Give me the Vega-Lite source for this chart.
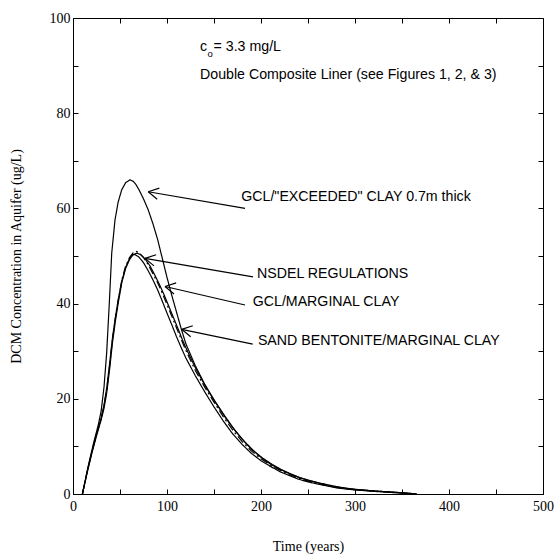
{
  "$schema": "https://vega.github.io/schema/vega-lite/v6.json",
  "width": 470,
  "height": 476,
  "autosize": {"type": "none"},
  "padding": {"left": 73, "top": 18, "right": 12, "bottom": 61},
  "background": "white",
  "config": {
    "view": {"stroke": "black", "strokeWidth": 1},
    "axis": {
      "labelFont": "Liberation Serif",
      "titleFont": "Liberation Serif",
      "labelFontSize": 14,
      "titleFontSize": 14,
      "titleFontWeight": "normal",
      "labelColor": "black",
      "titleColor": "black",
      "domainColor": "black",
      "tickColor": "black",
      "grid": false,
      "tickSize": -5
    }
  },
  "datasets": {
    "curves": [
      {"series": "EXCEEDED", "t": 10, "c": 0}, {"series": "EXCEEDED", "t": 16, "c": 5.7}, {"series": "EXCEEDED", "t": 22, "c": 10.8}, {"series": "EXCEEDED", "t": 27, "c": 14.6}, {"series": "EXCEEDED", "t": 30, "c": 17.5}, {"series": "EXCEEDED", "t": 33, "c": 22.5}, {"series": "EXCEEDED", "t": 35.8, "c": 29.6}, {"series": "EXCEEDED", "t": 38.6, "c": 40}, {"series": "EXCEEDED", "t": 41.2, "c": 50.6}, {"series": "EXCEEDED", "t": 44.7, "c": 57.6}, {"series": "EXCEEDED", "t": 48, "c": 61.3}, {"series": "EXCEEDED", "t": 51.8, "c": 63.9}, {"series": "EXCEEDED", "t": 56, "c": 65.4}, {"series": "EXCEEDED", "t": 60.6, "c": 66}, {"series": "EXCEEDED", "t": 64, "c": 65.7}, {"series": "EXCEEDED", "t": 67, "c": 65}, {"series": "EXCEEDED", "t": 70, "c": 64}, {"series": "EXCEEDED", "t": 75, "c": 62}, {"series": "EXCEEDED", "t": 80, "c": 59.7}, {"series": "EXCEEDED", "t": 85, "c": 56.8}, {"series": "EXCEEDED", "t": 90, "c": 53.5}, {"series": "EXCEEDED", "t": 95, "c": 49.5}, {"series": "EXCEEDED", "t": 100, "c": 45.5}, {"series": "EXCEEDED", "t": 105, "c": 41.8}, {"series": "EXCEEDED", "t": 110, "c": 38.3}, {"series": "EXCEEDED", "t": 115, "c": 34.8}, {"series": "EXCEEDED", "t": 120, "c": 31.6}, {"series": "EXCEEDED", "t": 130, "c": 27}, {"series": "EXCEEDED", "t": 140, "c": 23.1}, {"series": "EXCEEDED", "t": 150, "c": 19.8}, {"series": "EXCEEDED", "t": 160, "c": 16.8}, {"series": "EXCEEDED", "t": 170, "c": 14}, {"series": "EXCEEDED", "t": 180, "c": 11.5}, {"series": "EXCEEDED", "t": 190, "c": 9.4}, {"series": "EXCEEDED", "t": 200, "c": 7.7}, {"series": "EXCEEDED", "t": 210, "c": 6.3}, {"series": "EXCEEDED", "t": 220, "c": 5.2}, {"series": "EXCEEDED", "t": 230, "c": 4.3}, {"series": "EXCEEDED", "t": 240, "c": 3.5}, {"series": "EXCEEDED", "t": 250, "c": 2.9}, {"series": "EXCEEDED", "t": 260, "c": 2.4}, {"series": "EXCEEDED", "t": 270, "c": 1.95}, {"series": "EXCEEDED", "t": 280, "c": 1.55}, {"series": "EXCEEDED", "t": 290, "c": 1.25}, {"series": "EXCEEDED", "t": 300, "c": 1}, {"series": "EXCEEDED", "t": 320, "c": 0.65}, {"series": "EXCEEDED", "t": 340, "c": 0.4}, {"series": "EXCEEDED", "t": 355, "c": 0.2}, {"series": "EXCEEDED", "t": 365, "c": 0},

      {"series": "NSDEL", "t": 10, "c": 0}, {"series": "NSDEL", "t": 15, "c": 4.6}, {"series": "NSDEL", "t": 20, "c": 8.8}, {"series": "NSDEL", "t": 25, "c": 12.5}, {"series": "NSDEL", "t": 30, "c": 16}, {"series": "NSDEL", "t": 33, "c": 18.5}, {"series": "NSDEL", "t": 36, "c": 22}, {"series": "NSDEL", "t": 39, "c": 27}, {"series": "NSDEL", "t": 42, "c": 32.5}, {"series": "NSDEL", "t": 45, "c": 36.8}, {"series": "NSDEL", "t": 48, "c": 40.6}, {"series": "NSDEL", "t": 52, "c": 45}, {"series": "NSDEL", "t": 56, "c": 47.9}, {"series": "NSDEL", "t": 60, "c": 49.6}, {"series": "NSDEL", "t": 64, "c": 50.7}, {"series": "NSDEL", "t": 67, "c": 51}, {"series": "NSDEL", "t": 70, "c": 50.7}, {"series": "NSDEL", "t": 75, "c": 49.7}, {"series": "NSDEL", "t": 80, "c": 48.2}, {"series": "NSDEL", "t": 85, "c": 46.3}, {"series": "NSDEL", "t": 90, "c": 44.4}, {"series": "NSDEL", "t": 95, "c": 42.2}, {"series": "NSDEL", "t": 100, "c": 39.8}, {"series": "NSDEL", "t": 105, "c": 37.4}, {"series": "NSDEL", "t": 110, "c": 35}, {"series": "NSDEL", "t": 115, "c": 32.5}, {"series": "NSDEL", "t": 120, "c": 30.2}, {"series": "NSDEL", "t": 130, "c": 26}, {"series": "NSDEL", "t": 140, "c": 22.5}, {"series": "NSDEL", "t": 150, "c": 19.3}, {"series": "NSDEL", "t": 160, "c": 16.2}, {"series": "NSDEL", "t": 170, "c": 13.4}, {"series": "NSDEL", "t": 180, "c": 11}, {"series": "NSDEL", "t": 190, "c": 9}, {"series": "NSDEL", "t": 200, "c": 7.4}, {"series": "NSDEL", "t": 210, "c": 6.1}, {"series": "NSDEL", "t": 220, "c": 5}, {"series": "NSDEL", "t": 230, "c": 4.1}, {"series": "NSDEL", "t": 240, "c": 3.3}, {"series": "NSDEL", "t": 250, "c": 2.7}, {"series": "NSDEL", "t": 260, "c": 2.2}, {"series": "NSDEL", "t": 270, "c": 1.8}, {"series": "NSDEL", "t": 280, "c": 1.4}, {"series": "NSDEL", "t": 290, "c": 1.1}, {"series": "NSDEL", "t": 300, "c": 0.9}, {"series": "NSDEL", "t": 320, "c": 0.6}, {"series": "NSDEL", "t": 340, "c": 0.35}, {"series": "NSDEL", "t": 355, "c": 0.15}, {"series": "NSDEL", "t": 364, "c": 0},

      {"series": "GCLMARG", "t": 10, "c": 0}, {"series": "GCLMARG", "t": 15, "c": 4.6}, {"series": "GCLMARG", "t": 20, "c": 8.8}, {"series": "GCLMARG", "t": 25, "c": 12.5}, {"series": "GCLMARG", "t": 30, "c": 16}, {"series": "GCLMARG", "t": 33, "c": 18.7}, {"series": "GCLMARG", "t": 36, "c": 22.5}, {"series": "GCLMARG", "t": 39, "c": 27.5}, {"series": "GCLMARG", "t": 42, "c": 32.8}, {"series": "GCLMARG", "t": 45, "c": 37}, {"series": "GCLMARG", "t": 48, "c": 40.7}, {"series": "GCLMARG", "t": 52, "c": 44.8}, {"series": "GCLMARG", "t": 56, "c": 47.6}, {"series": "GCLMARG", "t": 60, "c": 49.4}, {"series": "GCLMARG", "t": 63, "c": 50.3}, {"series": "GCLMARG", "t": 66, "c": 50.3}, {"series": "GCLMARG", "t": 70, "c": 49.8}, {"series": "GCLMARG", "t": 75, "c": 48.6}, {"series": "GCLMARG", "t": 80, "c": 46.9}, {"series": "GCLMARG", "t": 85, "c": 45}, {"series": "GCLMARG", "t": 90, "c": 42.9}, {"series": "GCLMARG", "t": 95, "c": 40.5}, {"series": "GCLMARG", "t": 100, "c": 38}, {"series": "GCLMARG", "t": 105, "c": 35.6}, {"series": "GCLMARG", "t": 110, "c": 33.1}, {"series": "GCLMARG", "t": 115, "c": 30.8}, {"series": "GCLMARG", "t": 120, "c": 28.6}, {"series": "GCLMARG", "t": 130, "c": 24.9}, {"series": "GCLMARG", "t": 140, "c": 21.5}, {"series": "GCLMARG", "t": 150, "c": 18.3}, {"series": "GCLMARG", "t": 160, "c": 15.3}, {"series": "GCLMARG", "t": 170, "c": 12.6}, {"series": "GCLMARG", "t": 180, "c": 10.4}, {"series": "GCLMARG", "t": 190, "c": 8.5}, {"series": "GCLMARG", "t": 200, "c": 7}, {"series": "GCLMARG", "t": 210, "c": 5.8}, {"series": "GCLMARG", "t": 220, "c": 4.7}, {"series": "GCLMARG", "t": 230, "c": 3.9}, {"series": "GCLMARG", "t": 240, "c": 3.1}, {"series": "GCLMARG", "t": 250, "c": 2.55}, {"series": "GCLMARG", "t": 260, "c": 2.1}, {"series": "GCLMARG", "t": 270, "c": 1.7}, {"series": "GCLMARG", "t": 280, "c": 1.3}, {"series": "GCLMARG", "t": 290, "c": 1.05}, {"series": "GCLMARG", "t": 300, "c": 0.85}, {"series": "GCLMARG", "t": 320, "c": 0.55}, {"series": "GCLMARG", "t": 340, "c": 0.3}, {"series": "GCLMARG", "t": 355, "c": 0.12}, {"series": "GCLMARG", "t": 362, "c": 0},

      {"series": "SAND", "t": 10, "c": 0}, {"series": "SAND", "t": 15, "c": 4.4}, {"series": "SAND", "t": 20, "c": 8.5}, {"series": "SAND", "t": 25, "c": 12.2}, {"series": "SAND", "t": 30, "c": 15.6}, {"series": "SAND", "t": 33, "c": 18}, {"series": "SAND", "t": 36, "c": 21.4}, {"series": "SAND", "t": 39, "c": 26.3}, {"series": "SAND", "t": 42, "c": 31.8}, {"series": "SAND", "t": 45, "c": 36.2}, {"series": "SAND", "t": 48, "c": 40}, {"series": "SAND", "t": 52, "c": 44.5}, {"series": "SAND", "t": 56, "c": 47.4}, {"series": "SAND", "t": 60, "c": 49.2}, {"series": "SAND", "t": 64, "c": 50.3}, {"series": "SAND", "t": 68, "c": 50.6}, {"series": "SAND", "t": 72, "c": 50.3}, {"series": "SAND", "t": 77, "c": 49.3}, {"series": "SAND", "t": 82, "c": 47.9}, {"series": "SAND", "t": 87, "c": 46}, {"series": "SAND", "t": 92, "c": 44}, {"series": "SAND", "t": 97, "c": 41.8}, {"series": "SAND", "t": 102, "c": 39.4}, {"series": "SAND", "t": 107, "c": 37}, {"series": "SAND", "t": 112, "c": 34.6}, {"series": "SAND", "t": 117, "c": 32.1}, {"series": "SAND", "t": 122, "c": 29.9}, {"series": "SAND", "t": 132, "c": 25.8}, {"series": "SAND", "t": 142, "c": 22.3}, {"series": "SAND", "t": 152, "c": 19.1}, {"series": "SAND", "t": 162, "c": 16.1}, {"series": "SAND", "t": 172, "c": 13.4}, {"series": "SAND", "t": 182, "c": 11.1}, {"series": "SAND", "t": 192, "c": 9.1}, {"series": "SAND", "t": 202, "c": 7.5}, {"series": "SAND", "t": 212, "c": 6.2}, {"series": "SAND", "t": 222, "c": 5.1}, {"series": "SAND", "t": 232, "c": 4.2}, {"series": "SAND", "t": 242, "c": 3.4}, {"series": "SAND", "t": 252, "c": 2.8}, {"series": "SAND", "t": 262, "c": 2.3}, {"series": "SAND", "t": 272, "c": 1.85}, {"series": "SAND", "t": 282, "c": 1.45}, {"series": "SAND", "t": 292, "c": 1.15}, {"series": "SAND", "t": 302, "c": 0.92}, {"series": "SAND", "t": 322, "c": 0.62}, {"series": "SAND", "t": 342, "c": 0.36}, {"series": "SAND", "t": 357, "c": 0.16}, {"series": "SAND", "t": 366, "c": 0}
    ],
    "arrows": [
      {"label": "GCL/\"EXCEEDED\" CLAY 0.7m thick", "tipT": 80, "tipC": 63.5, "startT": 183, "startC": 60, "textT": 179, "textC": 62.5},
      {"label": "NSDEL REGULATIONS", "tipT": 76.6, "tipC": 49.5, "startT": 191.5, "startC": 45.6, "textT": 195.7, "textC": 46.2},
      {"label": "GCL/MARGINAL CLAY", "tipT": 97.9, "tipC": 43.6, "startT": 183, "startC": 39.7, "textT": 191.2, "textC": 40.4},
      {"label": "SAND BENTONITE/MARGINAL CLAY", "tipT": 115.6, "tipC": 34.6, "startT": 191.2, "startC": 31.5, "textT": 196.7, "textC": 32.2}
    ],
    "notes": [
      {"text": "Double Composite Liner (see Figures 1, 2, & 3)", "t": 135.1, "c": 88.0}
    ]
  },
  "resolve": {"axis": {"x": "independent", "y": "independent"}},
  "layer": [
    {
      "data": {"name": "curves"},
      "mark": {"type": "line", "color": "black", "strokeWidth": 1.2},
      "encoding": {
        "x": {"field": "t", "type": "quantitative",
          "scale": {"domain": [0, 500], "nice": false, "zero": false},
          "axis": {"orient": "bottom", "title": "Time (years)", "values": [0, 50, 100, 150, 200, 250, 300, 350, 400, 450, 500],
            "labelExpr": "datum.value % 100 === 0 ? datum.label : ''", "labelPadding": 10, "titlePadding": 26, "labelFlush": false}},
        "y": {"field": "c", "type": "quantitative",
          "scale": {"domain": [0, 100], "nice": false, "zero": false},
          "axis": {"orient": "left", "title": "DCM Concentration in Aquifer (ug/L)", "values": [0, 10, 20, 30, 40, 50, 60, 70, 80, 90, 100],
            "labelExpr": "datum.value % 20 === 0 ? datum.label : ''", "labelPadding": 8, "titlePadding": 26, "labelFlush": false}},
        "detail": {"field": "series"},
        "strokeDash": {"field": "series", "type": "nominal",
          "scale": {"domain": ["EXCEEDED", "NSDEL", "GCLMARG", "SAND"], "range": [[1, 0], [8, 3, 2, 3], [1, 0], [1, 0]]},
          "legend": null}
      }
    },
    {
      "data": {"name": "arrows"},
      "mark": {"type": "rule", "color": "black", "strokeWidth": 1.2},
      "encoding": {
        "x": {"field": "tipT", "type": "quantitative",
          "axis": {"orient": "top", "title": null, "labels": false, "values": [0, 50, 100, 150, 200, 250, 300, 350, 400, 450, 500], "domain": false}},
        "y": {"field": "tipC", "type": "quantitative",
          "axis": {"orient": "right", "title": null, "labels": false, "values": [0, 10, 20, 30, 40, 50, 60, 70, 80, 90, 100], "domain": false}},
        "x2": {"field": "startT"},
        "y2": {"field": "startC"}
      }
    },
    {
      "data": {"name": "arrows"},
      "mark": {"type": "point", "shape": "M0,0L1,-0.55M0,0L1,0.55", "filled": false, "stroke": "black", "strokeWidth": 1.2, "size": 420, "angle": 11, "opacity": 1},
      "encoding": {
        "x": {"field": "tipT", "type": "quantitative", "axis": null},
        "y": {"field": "tipC", "type": "quantitative", "axis": null}
      }
    },
    {
      "data": {"name": "arrows"},
      "mark": {"type": "text", "align": "left", "baseline": "middle", "font": "Liberation Sans", "fontSize": 14.2, "color": "black"},
      "encoding": {
        "x": {"field": "textT", "type": "quantitative", "axis": null},
        "y": {"field": "textC", "type": "quantitative", "axis": null},
        "text": {"field": "label"}
      }
    },
    {
      "data": {"name": "notes"},
      "mark": {"type": "text", "align": "left", "baseline": "middle", "font": "Liberation Sans", "fontSize": 14.2, "color": "black"},
      "encoding": {
        "x": {"field": "t", "type": "quantitative", "axis": null},
        "y": {"field": "c", "type": "quantitative", "axis": null},
        "text": {"field": "text"}
      }
    },
    {
      "data": {"values": [{"part": "c", "t": 135.1, "c": 93.9}]},
      "mark": {"type": "text", "align": "left", "baseline": "middle", "font": "Liberation Sans", "fontSize": 14.2, "color": "black"},
      "encoding": {
        "x": {"field": "t", "type": "quantitative", "axis": null},
        "y": {"field": "c", "type": "quantitative", "axis": null},
        "text": {"field": "part"}
      }
    },
    {
      "data": {"values": [{"part": "o", "t": 143.2, "c": 92.4}]},
      "mark": {"type": "text", "align": "left", "baseline": "middle", "font": "Liberation Sans", "fontSize": 9.5, "color": "black"},
      "encoding": {
        "x": {"field": "t", "type": "quantitative", "axis": null},
        "y": {"field": "c", "type": "quantitative", "axis": null},
        "text": {"field": "part"}
      }
    },
    {
      "data": {"values": [{"part": "= 3.3 mg/L", "t": 149.5, "c": 93.9}]},
      "mark": {"type": "text", "align": "left", "baseline": "middle", "font": "Liberation Sans", "fontSize": 14.2, "color": "black"},
      "encoding": {
        "x": {"field": "t", "type": "quantitative", "axis": null},
        "y": {"field": "c", "type": "quantitative", "axis": null},
        "text": {"field": "part"}
      }
    }
  ]
}
